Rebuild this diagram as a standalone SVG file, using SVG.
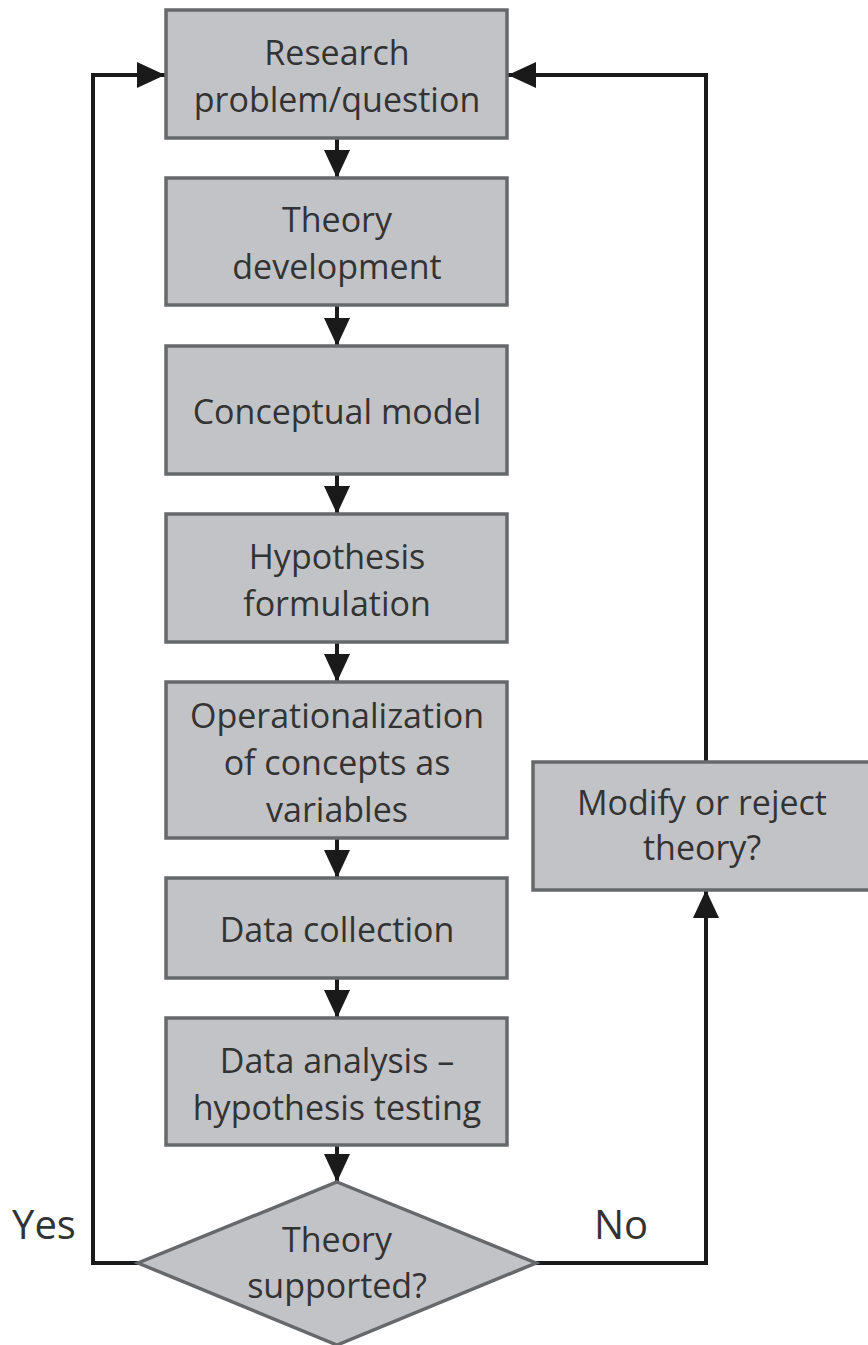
<svg xmlns="http://www.w3.org/2000/svg" width="868" height="1345" viewBox="0 0 868 1345">
  <defs>
    <style>
      .box { fill: #c2c3c6; stroke: #67686b; stroke-width: 3.5; }
      .lbl { font-family: "Open Sans", "Liberation Sans", sans-serif; font-size: 34px; fill: #333333; text-anchor: middle; }
      .side { font-family: "Open Sans", "Liberation Sans", sans-serif; font-size: 40px; fill: #333333; text-anchor: middle; }
      .wire { fill: none; stroke: #1a1a1a; stroke-width: 4; }
    </style>
    <marker id="head" markerUnits="userSpaceOnUse" markerWidth="28" markerHeight="26" refX="28" refY="13" orient="auto">
      <path d="M0,0 L28,13 L0,26 Z" fill="#1a1a1a"/>
    </marker>
  </defs>

  <rect width="868" height="1345" fill="#ffffff"/>

  <!-- connectors -->
  <g id="connectors">
    <line class="wire" x1="337" y1="139" x2="337" y2="178" marker-end="url(#head)"/>
    <line class="wire" x1="337" y1="306" x2="337" y2="346" marker-end="url(#head)"/>
    <line class="wire" x1="337" y1="475" x2="337" y2="514" marker-end="url(#head)"/>
    <line class="wire" x1="337" y1="643" x2="337" y2="682" marker-end="url(#head)"/>
    <line class="wire" x1="337" y1="839" x2="337" y2="878" marker-end="url(#head)"/>
    <line class="wire" x1="337" y1="979" x2="337" y2="1018" marker-end="url(#head)"/>
    <line class="wire" x1="337" y1="1146" x2="337" y2="1182" marker-end="url(#head)"/>
    <!-- Yes: back to the research question -->
    <polyline class="wire" points="138,1263 93,1263 93,75 165,75" marker-end="url(#head)"/>
    <!-- No: up to the modify/reject box -->
    <polyline class="wire" points="536,1263 706,1263 706,890" marker-end="url(#head)"/>
    <!-- from modify/reject back to the research question -->
    <polyline class="wire" points="706,762 706,75 508,75" marker-end="url(#head)"/>
  </g>

  <g id="research">
    <rect class="box" x="166" y="10" width="341" height="128"/>
    <text class="lbl" x="337" y="65">Research</text>
    <text class="lbl" x="337" y="112">problem/question</text>
  </g>

  <g id="theory-dev">
    <rect class="box" x="166" y="178" width="341" height="127"/>
    <text class="lbl" x="337" y="232">Theory</text>
    <text class="lbl" x="337" y="279">development</text>
  </g>

  <g id="concept-model">
    <rect class="box" x="166" y="346" width="341" height="128"/>
    <text class="lbl" x="337" y="424">Conceptual model</text>
  </g>

  <g id="hypothesis">
    <rect class="box" x="166" y="514" width="341" height="128"/>
    <text class="lbl" x="337" y="569">Hypothesis</text>
    <text class="lbl" x="337" y="616">formulation</text>
  </g>

  <g id="operationalization">
    <rect class="box" x="166" y="682" width="341" height="156"/>
    <text class="lbl" x="337" y="728">Operationalization</text>
    <text class="lbl" x="337" y="775">of concepts as</text>
    <text class="lbl" x="337" y="822">variables</text>
  </g>

  <g id="data-collection">
    <rect class="box" x="166" y="878" width="341" height="100"/>
    <text class="lbl" x="337" y="942">Data collection</text>
  </g>

  <g id="data-analysis">
    <rect class="box" x="166" y="1018" width="341" height="127"/>
    <text class="lbl" x="337" y="1073">Data analysis –</text>
    <text class="lbl" x="337" y="1120">hypothesis testing</text>
  </g>

  <g id="supported">
    <polygon class="box" points="337,1182 536,1263 337,1345 138,1263"/>
    <text class="lbl" x="337" y="1252">Theory</text>
    <text class="lbl" x="337" y="1298">supported?</text>
  </g>

  <g id="modify">
    <rect class="box" x="533" y="762" width="340" height="128"/>
    <text class="lbl" x="702" y="815">Modify or reject</text>
    <text class="lbl" x="702" y="860">theory?</text>
  </g>

  <g id="branch-labels">
    <text class="side" x="44" y="1239">Yes</text>
    <text class="side" x="621" y="1239">No</text>
  </g>
</svg>
